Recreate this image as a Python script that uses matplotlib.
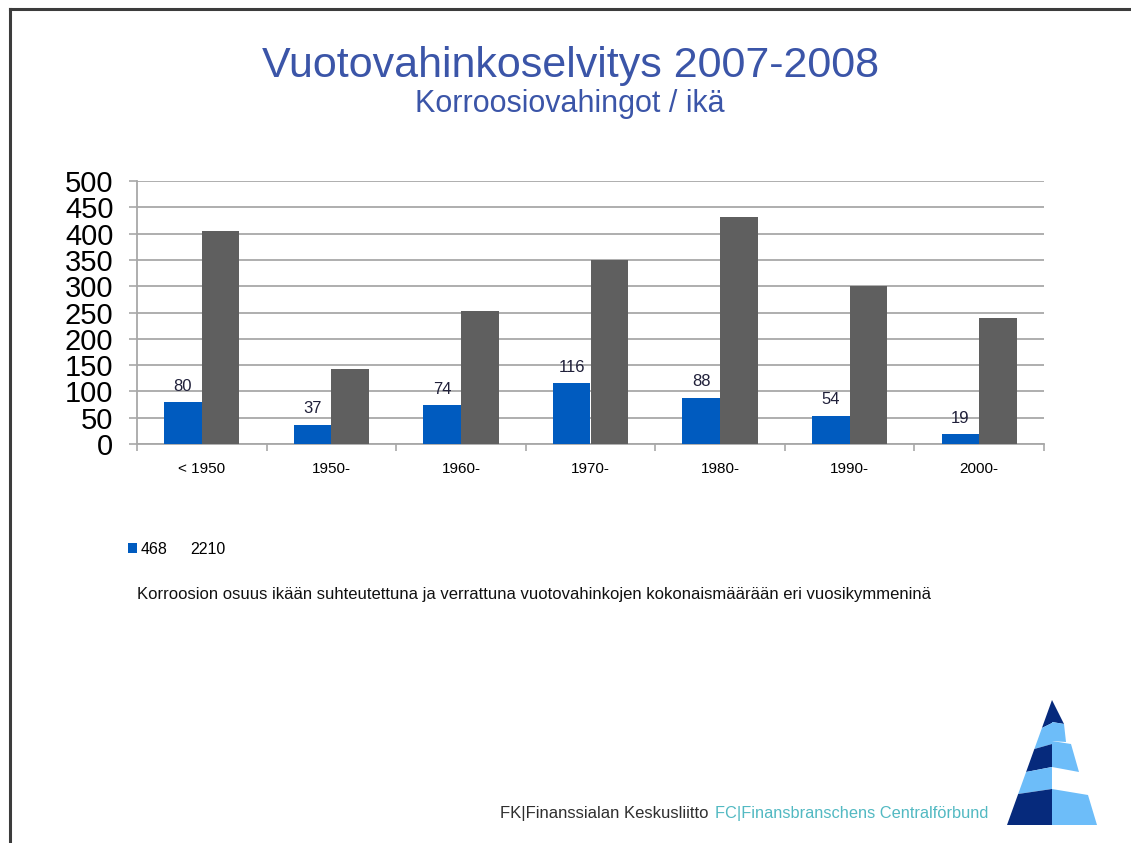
import numpy as np
import matplotlib
matplotlib.use('Agg')
import matplotlib.pyplot as plt
from matplotlib.patches import Patch, Polygon

plt.rcParams['font.family'] = ['Liberation Sans', 'DejaVu Sans']

# Data
categories = ['< 1950', '1950-', '1960-', '1970-', '1980-', '1990-', '2000-']
corrosion = [80, 37, 74, 116, 88, 54, 19]
all_leaks = [405, 142, 253, 350, 432, 300, 240]
legend_labels = ['468', '2210']

title = 'Vuotovahinkoselvitys 2007-2008'
subtitle = 'Korroosiovahingot / ikä'
caption = ('Korroosion osuus ikään suhteutettuna ja verrattuna '
           'vuotovahinkojen kokonaismäärään eri vuosikymmeninä')

blue = '#005bbf'
gray = '#5f5f5f'
grid_gray = '#a8a8a8'
title_blue = '#3b55a8'

W, H = 1131, 843
fig = plt.figure(figsize=(W / 100, H / 100), dpi=100)

# background layer in pixel coordinates (frame + logo)
bg = fig.add_axes([0, 0, 1, 1], zorder=-1)
bg.set_xlim(0, W)
bg.set_ylim(H, 0)
bg.axis('off')
bg.plot([10, 10], [9, H], color='#3c3c3c', lw=2.2)
bg.plot([10, W], [9, 9], color='#3c3c3c', lw=2.2)

# logo: striped triangle
navy = '#062a7c'
light = '#6dbdf9'
apex_x, apex_y, base_y, half_w = 1052, 700, 825, 45


def left_x(y):
    return apex_x - half_w * (y - apex_y) / (base_y - apex_y)


left_bands = [(700, 723, navy), (723, 744, light), (744, 767, navy),
              (767, 789, light), (789, 825, navy)]
for b0, b1, c in left_bands:
    t0 = min(b0 + 5, base_y) if b0 > apex_y else apex_y
    t1 = min(b1 + 5, base_y)
    pts = [(apex_x, b0), (apex_x, b1), (left_x(t1), t1), (left_x(t0), t0)]
    bg.add_patch(Polygon(pts, closed=True, color=c, lw=0))

right_shapes = [
    ([(1052, 700), (1064, 724), (1052, 722)], navy),
    ([(1052, 722), (1064, 724), (1066, 742), (1052, 741)], light),
    ([(1052, 741), (1071, 744), (1079, 772), (1052, 767)], light),
    ([(1052, 789), (1088, 795), (1097, 825), (1052, 825)], light),
]
for pts, c in right_shapes:
    bg.add_patch(Polygon(pts, closed=True, color=c, lw=0))

# footer text
fig.text(500 / W, 1 - 818 / H, 'FK|Finanssialan Keskusliitto', fontsize=12,
         color='#2f2f2f', va='baseline', ha='left')
fig.text(715 / W, 1 - 818 / H, 'FC|Finansbranschens Centralförbund', fontsize=11.8,
         color='#52b9c2', va='baseline', ha='left')

# titles
fig.text(571 / W, 1 - 77 / H, title, fontsize=31, color=title_blue,
         ha='center', va='baseline')
fig.text(570 / W, 1 - 112 / H, subtitle, fontsize=22, color=title_blue,
         ha='center', va='baseline')

# main chart
ax = fig.add_axes([137 / W, 1 - 444 / H, (1044 - 137) / W, (444 - 181) / H])
x = np.arange(len(categories))
bw = 0.29
ax.bar(x - bw / 2, corrosion, bw, color=blue, zorder=3)
ax.bar(x + bw / 2, all_leaks, bw, color=gray, zorder=3)

for xi, v in zip(x, corrosion):
    ax.annotate(str(v), (xi - bw / 2, v), xytext=(0, 6), textcoords='offset points',
                ha='center', va='bottom', fontsize=12, color='#20203a', zorder=4)

ax.set_xlim(-0.5, len(categories) - 0.5)
ax.set_ylim(0, 500)
ax.set_yticks(np.arange(0, 501, 50))
ax.tick_params(axis='y', labelsize=21, length=6, width=1.2, color=grid_gray, pad=11)
ax.yaxis.grid(True, color=grid_gray, lw=1.3, zorder=0)

ax.set_xticks(x)
ax.set_xticklabels(categories, fontsize=11)
ax.tick_params(axis='x', length=0, pad=13)
ax.set_xticks(np.arange(-0.5, len(categories), 1), minor=True)
ax.tick_params(axis='x', which='minor', length=5, width=1.2, color=grid_gray)

for s in ['top', 'right']:
    ax.spines[s].set_visible(False)
for s in ['left', 'bottom']:
    ax.spines[s].set_color(grid_gray)
    ax.spines[s].set_linewidth(1.3)

# legend (second series has no visible swatch in the original)
handles = [Patch(facecolor=blue, edgecolor='none'),
           Patch(facecolor='none', edgecolor='none')]
fig.legend(handles, legend_labels, loc='center left',
           bbox_to_anchor=(120 / W, 1 - 549 / H), ncol=2, frameon=False,
           fontsize=11.5, handlelength=0.55, handleheight=0.55,
           handletextpad=0.25, columnspacing=0.6, borderpad=0)

# caption
fig.text(137 / W, 1 - 594 / H, caption, fontsize=12, color='#111111',
         ha='left', va='center')

fig.savefig('out.png', dpi=100)
